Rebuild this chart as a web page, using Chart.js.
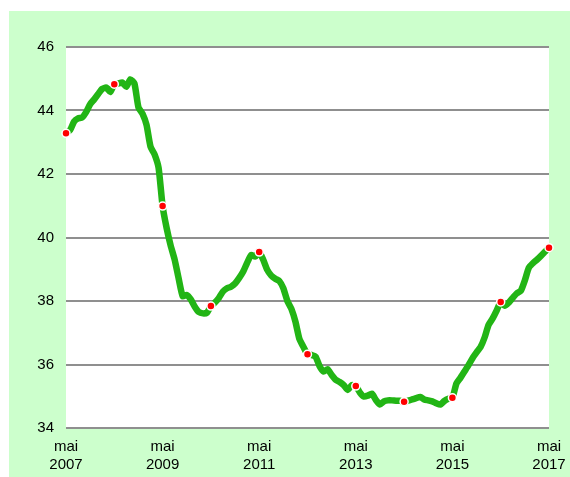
<!DOCTYPE html>
<html lang="fr">
<head>
<meta charset="utf-8">
<title>Courbe mai 2007 - mai 2017</title>
<script src="https://cdn.jsdelivr.net/npm/chart.js@4/dist/chart.umd.min.js"></script>
<style>
    html, body { margin: 0; padding: 0; background: #ffffff; }
    .chart-box {
        position: absolute;
        left: 9px;
        top: 11px;
        width: 561px;
        height: 466px;
        background: #ccffcc;
    }
</style>
</head>
<body>
<div class="chart-box">
    <canvas id="lineChart"></canvas>
</div>
<script>
// Monthly values, mai 2007 (index 0) to mai 2017 (index 120)
const monthlyValues = [
    43.28, 43.38, 43.65, 43.75, 43.78, 43.95, 44.20, 44.35, 44.52, 44.68, 44.72, 44.58,
    44.83, 44.85, 44.88, 44.75, 44.98, 44.85, 44.10, 43.90, 43.55, 42.86, 42.62, 42.20,
    40.99, 40.30, 39.75, 39.30, 38.70, 38.15, 38.19, 38.05, 37.82, 37.65, 37.61, 37.63,
    37.84, 37.95, 38.10, 38.30, 38.40, 38.45, 38.55, 38.72, 38.92, 39.20, 39.45, 39.40,
    39.54, 39.30, 38.98, 38.80, 38.70, 38.63, 38.40, 38.00, 37.75, 37.35, 36.80, 36.55,
    36.32, 36.30, 36.25, 35.95, 35.78, 35.85, 35.67, 35.52, 35.45, 35.35, 35.20, 35.35,
    35.32, 35.12, 34.99, 35.02, 35.08, 34.88, 34.74, 34.84, 34.87, 34.87, 34.86, 34.86,
    34.83, 34.86, 34.90, 34.94, 34.98, 34.90, 34.87, 34.84, 34.78, 34.74, 34.85, 34.92,
    34.95, 35.40, 35.58, 35.78, 35.98, 36.20, 36.38, 36.55, 36.85, 37.25, 37.45, 37.70,
    37.97, 37.85, 37.95, 38.10, 38.24, 38.32, 38.65, 39.05, 39.19, 39.30, 39.42, 39.55,
    39.68
];

// Yearly markers (red dots), month index and value
const dotMonths = [0, 12, 24, 36, 48, 60, 72, 84, 96, 108, 120];
const dotValues = [43.28, 44.83, 40.99, 37.84, 39.54, 36.32, 35.32, 34.83, 34.95, 37.97, 39.68];

// Axis labels
const tickMonths = [0, 24, 48, 72, 96, 120];
const tickYears = ['2007', '2009', '2011', '2013', '2015', '2017'];
const tickMonthName = 'mai';
const yTicks = [34, 36, 38, 40, 42, 44, 46];

document.addEventListener('DOMContentLoaded', function() {
    initializeChart();
});

// White plot area on the green background
const plotBackground = {
    id: 'plotBackground',
    beforeDraw: function(chart) {
        const a = chart.chartArea;
        const c = chart.ctx;
        c.save();
        c.fillStyle = '#ffffff';
        c.fillRect(a.left, a.top, a.right - a.left, a.bottom - a.top);
        c.restore();
    }
};

function initializeChart() {
    const ctx = document.getElementById('lineChart');
    if (!ctx) return;

    const lineData = monthlyValues.map((v, i) => ({ x: i, y: v }));
    const dotData = dotMonths.map((m, i) => ({ x: m, y: dotValues[i] }));

    const labelFont = { family: "'Liberation Sans', Arial, sans-serif", size: 15 };

    new Chart(ctx, {
        type: 'line',
        data: {
            datasets: [
                {
                    // red dots, drawn on top
                    data: dotData,
                    showLine: false,
                    clip: false,
                    pointRadius: 4,
                    pointBackgroundColor: '#ff0000',
                    pointBorderColor: '#ffffff',
                    pointBorderWidth: 1.5
                },
                {
                    data: lineData,
                    borderColor: '#22b515',
                    borderWidth: 6.5,
                    borderJoinStyle: 'round',
                    borderCapStyle: 'round',
                    pointRadius: 0,
                    tension: 0.2,
                    fill: false
                }
            ]
        },
        plugins: [plotBackground],
        options: {
            responsive: true,
            maintainAspectRatio: false,
            animation: false,
            layout: {
                padding: { top: 36, right: 21, bottom: 0, left: 0 }
            },
            plugins: {
                legend: { display: false },
                tooltip: { enabled: false }
            },
            scales: {
                x: {
                    type: 'linear',
                    min: 0,
                    max: 120,
                    grid: { display: false, drawTicks: false },
                    border: { display: false },
                    afterBuildTicks: function(scale) {
                        scale.ticks = tickMonths.map(m => ({ value: m }));
                    },
                    afterFit: function(scale) {
                        scale.height = 49;
                        scale.paddingLeft = 0;
                        scale.paddingRight = 0;
                    },
                    ticks: {
                        autoSkip: false,
                        maxRotation: 0,
                        padding: 10,
                        color: '#000000',
                        font: Object.assign({ lineHeight: 1.2 }, labelFont),
                        callback: function(value) {
                            const i = tickMonths.indexOf(value);
                            return i < 0 ? '' : [tickMonthName, tickYears[i]];
                        }
                    }
                },
                y: {
                    min: 34,
                    max: 46,
                    grid: { color: '#8f8f8f', lineWidth: 2, drawTicks: false },
                    border: { display: false },
                    afterBuildTicks: function(scale) {
                        scale.ticks = yTicks.map(v => ({ value: v }));
                    },
                    afterFit: function(scale) {
                        scale.width = 57;
                    },
                    ticks: {
                        padding: 12,
                        color: '#000000',
                        font: labelFont
                    }
                }
            }
        }
    });
}
</script>
</body>
</html>
